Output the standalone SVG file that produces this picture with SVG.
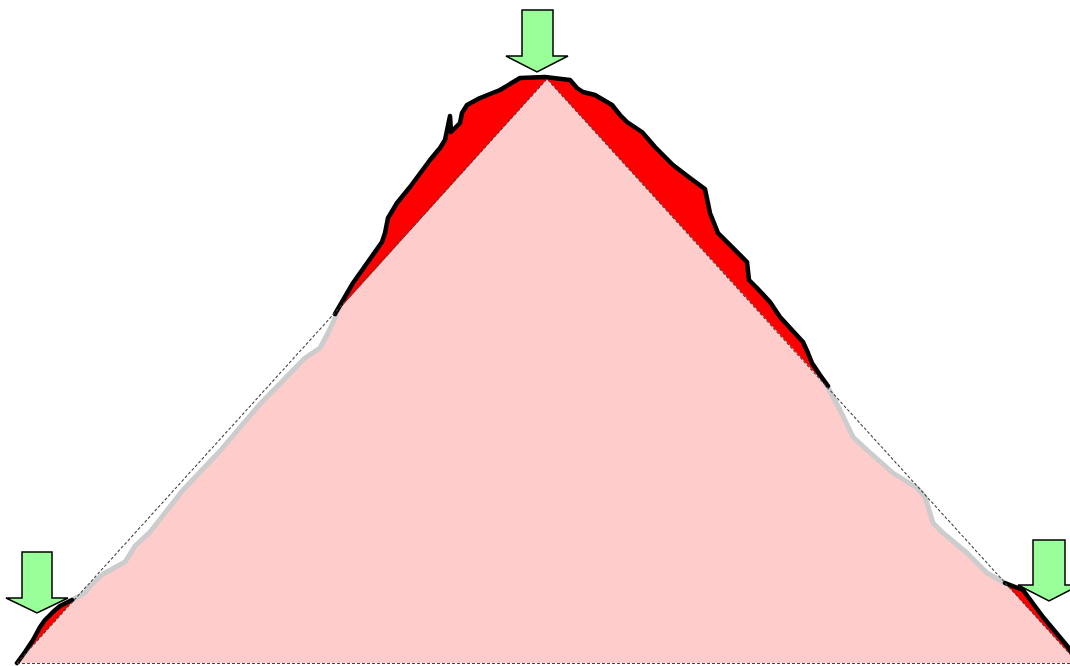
<svg xmlns="http://www.w3.org/2000/svg" width="1070" height="666" viewBox="0 0 1070 666">
<style>
.terrain{fill:#ffcccc;stroke:none}
.red{fill:#ff0000;stroke:none}
.edge{fill:none;stroke:#000;stroke-width:4.5;stroke-linejoin:round;stroke-linecap:round}
.low{fill:none;stroke:#cccccc;stroke-width:5;stroke-linejoin:round;stroke-linecap:round}
.dash{fill:none;stroke:#444;stroke-width:1.1;stroke-dasharray:3 2}
.arrow{fill:#99ff99;stroke:#000;stroke-width:1.5;stroke-linejoin:miter}
</style>
<rect width="1070" height="666" fill="#fff"/>
<g id="terrain">
<path class="terrain" d="M17,663 L25,652 L33,640 L40,627 L45,620 L53,612 L60,606 L72,600 L85,593 L90,586 L103,574 L125,562 L135,546 L150,532 L183,490 L220,451 L260,404 L305,358 L320,348 L328,333 L335,316 L353,283 L382,242 L385,233 L388,218 L397,203 L410,187 L430,160 L440,148 L445,140 L450,116 L451,132 L460,123 L462,113 L467,105 L480,98 L500,90 L520,78 L545,77 L570,80 L577,88 L583,92 L595,95 L612,105 L620,115 L627,122 L642,132 L655,147 L673,165 L690,178 L705,189 L710,213 L718,233 L747,262 L749,280 L757,288 L770,302 L780,317 L803,342 L808,353 L812,363 L820,375 L828,386 L840,410 L853,437 L867,450 L893,473 L917,488 L925,497 L930,513 L933,523 L943,533 L967,553 L987,573 L1005,583 L1023,590 L1043,617 L1068,647 L1078,663 Z"/>
</g>
<g id="gains">
<path class="red" d="M17,663 L25,652 L33,640 L40,627 L45,620 L53,612 L60,606 L72,600 L74,600 Z"/>
<path class="red" d="M335,314 L353,283 L382,242 L385,233 L388,218 L397,203 L410,187 L430,160 L440,148 L445,140 L450,116 L451,132 L460,123 L462,113 L467,105 L480,98 L500,90 L520,78 L545,77 L570,80 L577,88 L583,92 L595,95 L612,105 L620,115 L627,122 L642,132 L655,147 L673,165 L690,178 L705,189 L710,213 L718,233 L747,262 L749,280 L757,288 L770,302 L780,317 L803,342 L808,353 L812,363 L820,375 L826,385 L547,79 Z"/>
<path class="red" d="M1005,583 L1023,590 L1043,617 L1068,647 L1078,663 Z"/>
</g>
<g id="losses">
<path class="low" d="M72,600 L85,593 L90,586 L103,574 L125,562 L135,546 L150,532 L183,490 L220,451 L260,404 L305,358 L320,348 L328,333 L336,316"/>
<path class="low" d="M826,384 L840,410 L853,437 L867,450 L893,473 L917,488 L925,497 L930,513 L933,523 L943,533 L967,553 L987,573 L1005,583"/>
</g>
<g id="edges">
<path class="edge" d="M17,663 L25,652 L33,640 L40,627 L45,620 L53,612 L60,606 L72,600"/>
<path class="edge" d="M335,314 L353,283 L382,242 L385,233 L388,218 L397,203 L410,187 L430,160 L440,148 L445,140 L450,116 L451,132 L460,123 L462,113 L467,105 L480,98 L500,90 L520,78 L545,77 L570,80 L577,88 L583,92 L595,95 L612,105 L620,115 L627,122 L642,132 L655,147 L673,165 L690,178 L705,189 L710,213 L718,233 L747,262 L749,280 L757,288 L770,302 L780,317 L803,342 L808,353 L812,363 L820,375 L828,386"/>
<path class="edge" d="M1005,583 L1023,590 L1043,617 L1068,647 L1078,663"/>
</g>
<g id="reference">
<path class="dash" d="M17,663 L547,79 L1078,663"/>
<path class="dash" d="M17,663.5 H1070"/>
</g>
<g id="arrow-top"><path class="arrow" d="M522,10 H553 V56 H568 L537,72 L506,56 H522 Z"/></g>
<g id="arrow-left"><path class="arrow" d="M22,552 H52 V598 H68 L37,613 L6,598 H22 Z"/></g>
<g id="arrow-right"><path class="arrow" d="M1033,540 H1065 V585 H1080 L1049,601 L1018,585 H1033 Z"/></g>
</svg>
